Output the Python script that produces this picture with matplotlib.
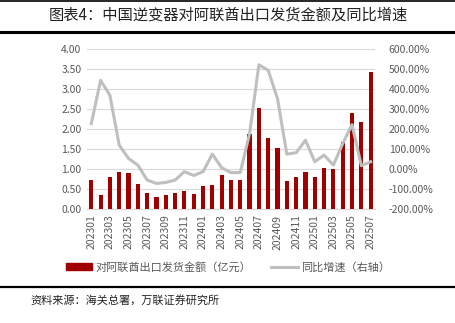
import matplotlib.pyplot as plt
from matplotlib.lines import Line2D

plt.rcParams['font.family'] = ['Noto Sans CJK SC', 'DejaVu Sans']

months = ['202301', '202302', '202303', '202304', '202305', '202306', '202307', '202308',
          '202309', '202310', '202311', '202312', '202401', '202402', '202403', '202404',
          '202405', '202406', '202407', '202408', '202409', '202410', '202411', '202412',
          '202501', '202502', '202503', '202504', '202505', '202506', '202507']
amount = [0.73, 0.35, 0.80, 0.93, 0.90, 0.62, 0.40, 0.31, 0.34, 0.40, 0.45, 0.37,
          0.58, 0.60, 0.85, 0.72, 0.73, 1.87, 2.53, 1.77, 1.52, 0.71, 0.80, 0.93,
          0.80, 1.02, 1.00, 1.67, 2.40, 2.17, 3.43]
yoy = [228, 445, 370, 120, 53, 20, -55, -72, -67, -55, -13, -32,
       -13, 75, 7, -18, -17, 178, 523, 495, 353, 75, 82, 145,
       37, 70, 20, 128, 223, 17, 37]

red = '#A00000'
grey = '#BFBFBF'
tick_col = '#595959'

fig = plt.figure(figsize=(4.56, 3.23), dpi=100)
ax = fig.add_axes([0.191, 0.353, 0.631, 0.494])
x = list(range(len(months)))
ax.bar(x, amount, width=0.45, color=red, zorder=3)
ax.set_ylim(0, 4)
ax.set_yticks([i * 0.5 for i in range(9)])
ax.set_yticklabels(['%.2f' % (i * 0.5) for i in range(9)])
ax.set_xlim(-0.45, len(months) - 0.55)
ax.set_xticks(x[::2])
ax.set_xticklabels(months[::2], rotation=90)
ax.grid(axis='y', color='#D9D9D9', linewidth=0.8, zorder=0)
for s in ['top', 'left', 'right']:
    ax.spines[s].set_visible(False)
ax.spines['bottom'].set_color('#D9D9D9')
ax.tick_params(length=0, labelsize=7.5, colors=tick_col, pad=4)

ax2 = ax.twinx()
ax2.plot(x, yoy, color=grey, linewidth=2.2, zorder=4)
ax2.set_ylim(-200, 600)
ax2.set_yticks(range(-200, 601, 100))
ax2.set_yticklabels(['%.2f%%' % v for v in range(-200, 601, 100)])
for s in ax2.spines.values():
    s.set_visible(False)
ax2.tick_params(length=0, labelsize=7.5, colors=tick_col, pad=10)

handles = [plt.Rectangle((0, 0), 1, 1, color=red),
           Line2D([0], [0], color=grey, linewidth=2.2)]
fig.legend(handles, ['对阿联酋出口发货金额（亿元）', '同比增速（右轴）'],
           loc='center', bbox_to_anchor=(0.5, 0.173), ncol=2, frameon=False,
           prop={'size': 8, 'weight': 'light'}, handlelength=2.4, handleheight=0.6,
           columnspacing=1.8, handletextpad=0.3, labelcolor=tick_col)

fig.text(0.5, 0.953, '图表4：中国逆变器对阿联酋出口发货金额及同比增速',
         ha='center', va='center', fontsize=11, fontweight='light', color='#222222')
fig.add_artist(Line2D([0, 1], [0.998, 0.998], color='black', linewidth=1.2))
fig.add_artist(Line2D([0, 1], [0.9, 0.9], color='black', linewidth=2.2))
fig.add_artist(Line2D([0, 1], [0.113, 0.113], color='black', linewidth=1.6))
fig.text(0.066, 0.07, '资料来源：海关总署，万联证券研究所', ha='left', va='center',
         fontsize=8, fontweight='light', style='italic', color='#222222')

fig.savefig('out.png', dpi=100)
